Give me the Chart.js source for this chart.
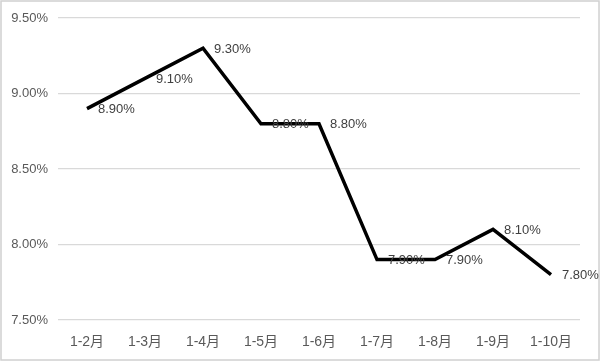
<!DOCTYPE html>
<html lang="zh">
<head>
    <meta charset="UTF-8">
    <title>累计增速</title>
    <script src="https://cdn.jsdelivr.net/npm/chart.js"></script>
    <style>
        html, body {
            margin: 0;
            padding: 0;
            background: #fff;
        }
        #wrap {
            width: 600px;
            height: 361px;
        }
    </style>
</head>
<body>
    <div id="wrap"><canvas id="growthChart" width="600" height="361"></canvas></div>

    <script>
        const months = ['1-2月', '1-3月', '1-4月', '1-5月', '1-6月', '1-7月', '1-8月', '1-9月', '1-10月'];
        const growth = [8.9, 9.1, 9.3, 8.8, 8.8, 7.9, 7.9, 8.1, 7.8];

        const fontFamily = '"Liberation Sans", "Noto Sans CJK SC", sans-serif';

        // white background plus the thin grey frame
        const frame = {
            id: 'frame',
            beforeDraw(chart) {
                const ctx = chart.ctx;
                ctx.save();
                ctx.fillStyle = '#ffffff';
                ctx.fillRect(0, 0, chart.width, chart.height);
                ctx.strokeStyle = '#d0d0d0';
                ctx.lineWidth = 1.5;
                ctx.strokeRect(1, 1, chart.width - 2, chart.height - 2);
                ctx.restore();
            }
        };

        // value labels to the right of each point
        const valueLabels = {
            id: 'valueLabels',
            afterDatasetsDraw(chart) {
                const ctx = chart.ctx;
                const meta = chart.getDatasetMeta(0);
                ctx.save();
                ctx.font = '13px ' + fontFamily;
                ctx.fillStyle = '#404040';
                ctx.textAlign = 'left';
                ctx.textBaseline = 'middle';
                meta.data.forEach((pt, i) => {
                    ctx.fillText(growth[i].toFixed(2) + '%', pt.x + 11, pt.y + 1);
                });
                ctx.restore();
            }
        };

        new Chart(document.getElementById('growthChart'), {
            type: 'line',
            data: {
                labels: months,
                datasets: [{
                    data: growth,
                    borderColor: '#000000',
                    borderWidth: 3.5,
                    pointRadius: 0,
                    tension: 0,
                    fill: false
                }]
            },
            options: {
                responsive: false,
                animation: false,
                layout: { padding: { top: 18, right: 20, left: 0, bottom: 0 } },
                plugins: {
                    legend: { display: false },
                    tooltip: { enabled: false }
                },
                scales: {
                    x: {
                        offset: true,
                        grid: { display: false },
                        border: { display: false },
                        ticks: {
                            color: '#595959',
                            font: { family: fontFamily, size: 14 },
                            padding: 6
                        },
                        afterFit(scale) { scale.height = 41; }
                    },
                    y: {
                        min: 7.5,
                        max: 9.5,
                        grid: { color: '#d9d9d9', lineWidth: 1.2, drawTicks: false },
                        border: { display: false },
                        ticks: {
                            stepSize: 0.5,
                            color: '#595959',
                            font: { family: fontFamily, size: 13 },
                            padding: 10,
                            callback: v => v.toFixed(2) + '%'
                        },
                        afterFit(scale) { scale.width = 58; }
                    }
                }
            },
            plugins: [frame, valueLabels]
        });
    </script>
</body>
</html>
